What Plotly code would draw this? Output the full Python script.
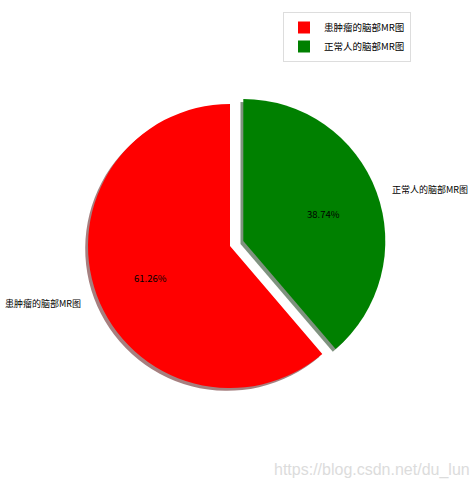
import math
import plotly.graph_objs as go

# slices listed in drawing order (green first so it runs clockwise from 12 o'clock)
labels = ["正常人的脑部MR图", "患肿瘤的脑部MR图"]
values = [38.74, 61.26]
colors = ["#008000", "#ff0000"]
shadow_colors = ["rgba(0,38,0,0.5)", "rgba(77,0,0,0.5)"]
explode = [0.1, 0]

font = "Noto Sans CJK SC"
W, H = 474, 493
cx, cy, r = 230, 246, 142  # pie centre / radius in pixels


def px(x):
    return x / W


def py(y):
    return 1 - y / H


half = r * (1 + max(explode))
dom = dict(x=[px(cx - half), px(cx + half)], y=[py(cy + half), py(cy - half)])
sh = 2.8
shadow_dom = dict(x=[px(cx - half - sh), px(cx + half - sh)],
                  y=[py(cy + half + sh), py(cy - half + sh)])

shadow = go.Pie(
    labels=labels, values=values, sort=False, direction="clockwise",
    rotation=0, pull=explode, domain=shadow_dom,
    marker=dict(colors=shadow_colors, line=dict(width=0)),
    textinfo="none", hoverinfo="skip", showlegend=False,
)

main = go.Pie(
    labels=labels, values=values, sort=False, direction="clockwise",
    rotation=0, pull=explode, domain=dom,
    marker=dict(colors=colors, line=dict(width=0)),
    textinfo="none",
)

# label / percentage positions, matplotlib style (labeldistance 1.1, pctdistance 0.6)
annotations = []
total = sum(values)
start = 90.0
for lab, v, ex in zip(labels, values, explode):
    sweep = 360.0 * v / total
    mid = math.radians(start - sweep / 2)
    start -= sweep
    ox = cx + ex * r * math.cos(mid)
    oy = cy - ex * r * math.sin(mid)
    lx = ox + 1.1 * r * math.cos(mid)
    ly = oy - 1.1 * r * math.sin(mid)
    annotations.append(dict(
        text=lab, x=px(lx), y=py(ly), xref="paper", yref="paper",
        xanchor="left" if math.cos(mid) > 0 else "right", yanchor="middle",
        yshift=-3, showarrow=False, font=dict(family=font, size=9, color="black"),
    ))
    tx = ox + 0.6 * r * math.cos(mid)
    ty = oy - 0.6 * r * math.sin(mid)
    annotations.append(dict(
        text="%.2f%%" % (100.0 * v / total), x=px(tx), y=py(ty),
        xref="paper", yref="paper", xanchor="center", yanchor="middle",
        yshift=-2, showarrow=False, font=dict(family=font, size=9.5, color="black"),
    ))

annotations.append(dict(
    text="https://blog.csdn.net/du_lun", showarrow=False,
    xref="paper", yref="paper", x=px(472), y=py(470),
    xanchor="right", yanchor="middle",
    font=dict(family="Liberation Sans", size=16, color="#dcdcdc"),
))

layout = go.Layout(
    width=W, height=H,
    margin=dict(l=0, r=0, t=0, b=0),
    paper_bgcolor="white",
    font=dict(family=font, size=10, color="black"),
    legend=dict(
        x=px(283), y=py(12), xanchor="left", yanchor="top",
        bordercolor="#dddddd", borderwidth=1, traceorder="reversed",
        font=dict(family=font, size=9.5),
    ),
    annotations=annotations,
)

fig = go.Figure(data=[shadow, main], layout=layout)
fig.write_html("out.html", config={"displayModeBar": False},
               post_script="document.body.style.margin='0px';")
